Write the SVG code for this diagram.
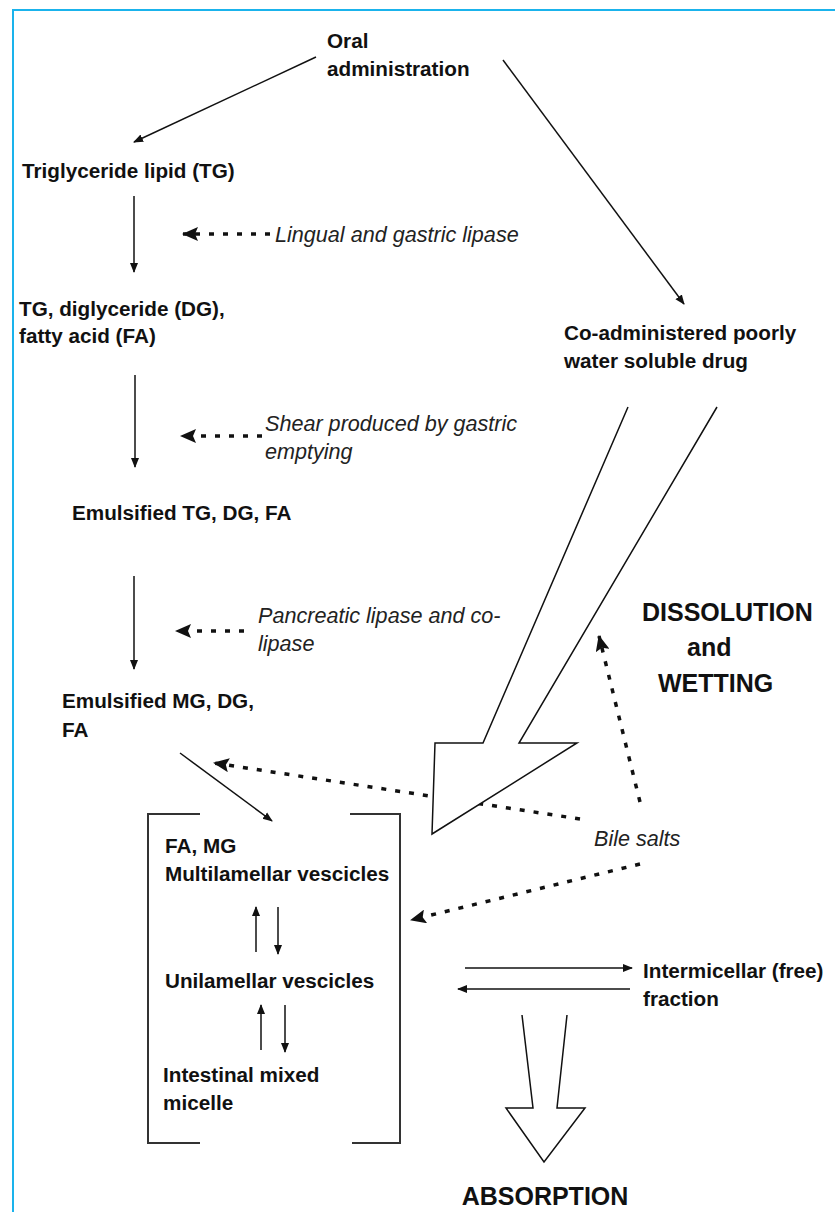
<svg xmlns="http://www.w3.org/2000/svg" width="835" height="1212" viewBox="0 0 835 1212">
<style>
  .b { font-family: "Liberation Sans", Arial, sans-serif; font-weight: bold; font-size: 20.7px; fill: #111; }
  .i { font-family: "Liberation Sans", Arial, sans-serif; font-style: italic; font-size: 21.6px; fill: #222; }
  .big { font-family: "Liberation Sans", Arial, sans-serif; font-weight: bold; font-size: 25px; fill: #111; }
  .ln { stroke: #111; stroke-width: 1.5; fill: none; }
  .dot { stroke: #111; stroke-width: 3.5; fill: none; stroke-dasharray: 5 9; }
  .hollow { stroke: #111; stroke-width: 1.5; fill: #fff; stroke-linejoin: miter; }
  .brk { stroke: #333; stroke-width: 2; fill: none; }
</style>
<defs>
  <marker id="ah" markerWidth="10" markerHeight="10" refX="9" refY="5" orient="auto" markerUnits="userSpaceOnUse">
    <path d="M0,1 L10,5 L0,9 Z" fill="#111"/>
  </marker>
  <marker id="dh" markerWidth="16" markerHeight="14" refX="15" refY="7" orient="auto" markerUnits="userSpaceOnUse">
    <path d="M0,0 L16,7 L0,14 L3,7 Z" fill="#111"/>
  </marker>
</defs>
<rect width="835" height="1212" fill="#fff"/>
<path d="M13,1212 L13,10 L835,10" stroke="#1ab3ec" stroke-width="2" fill="none"/>

<g id="connectors">
  <line class="ln" x1="316" y1="57" x2="134" y2="142" marker-end="url(#ah)"/>
  <line class="ln" x1="503" y1="60" x2="684" y2="304" marker-end="url(#ah)"/>
  <line class="ln" x1="134" y1="196" x2="134" y2="272" marker-end="url(#ah)"/>
  <line class="ln" x1="135" y1="375" x2="135" y2="467" marker-end="url(#ah)"/>
  <line class="ln" x1="134" y1="576" x2="134" y2="669" marker-end="url(#ah)"/>
  <line class="ln" x1="180" y1="753" x2="272" y2="821" marker-end="url(#ah)"/>
  <line class="dot" x1="270" y1="234" x2="183" y2="234" marker-end="url(#dh)"/>
  <line class="dot" x1="262" y1="436" x2="181" y2="436" marker-end="url(#dh)"/>
  <line class="dot" x1="244" y1="631" x2="176" y2="631" marker-end="url(#dh)"/>
  <line class="dot" x1="580" y1="819" x2="214" y2="763" marker-end="url(#dh)"/>
  <line class="dot" x1="640" y1="802" x2="599" y2="636" marker-end="url(#dh)"/>
  <line class="dot" x1="640" y1="864" x2="411" y2="920" marker-end="url(#dh)"/>
  <line class="ln" x1="256" y1="952" x2="256" y2="907" marker-end="url(#ah)"/>
  <line class="ln" x1="278" y1="907" x2="278" y2="954" marker-end="url(#ah)"/>
  <line class="ln" x1="261" y1="1050" x2="261" y2="1005" marker-end="url(#ah)"/>
  <line class="ln" x1="285" y1="1005" x2="285" y2="1052" marker-end="url(#ah)"/>
  <line class="ln" x1="465" y1="968" x2="632" y2="968" stroke="#333" marker-end="url(#ah)"/>
  <line class="ln" x1="630" y1="989" x2="458" y2="989" stroke="#555" marker-end="url(#ah)"/>
  <!-- hollow arrow: dissolution -->
  <path class="hollow" d="M628,407 L483,743 L435,743 L432,834 L577,743 L519,743 L717,407"/>
  <!-- hollow arrow: absorption -->
  <path class="hollow" d="M522,1015 L533,1108 L506,1108 L544,1162 L585,1108 L557,1108 L567,1015"/>
</g>

<g id="bracket">
  <path class="brk" d="M200,814 L148,814 L148,1143 L200,1143"/>
  <path class="brk" d="M350,814 L400,814 L400,1143 L352,1143"/>
</g>

<g id="oral"><text class="b" x="327" y="48">Oral</text><text class="b" x="327" y="76">administration</text></g>
<g id="tg"><text class="b" x="22" y="178">Triglyceride lipid (TG)</text></g>
<g id="lingual"><text class="i" x="275" y="242">Lingual and gastric lipase</text></g>
<g id="tgdgfa"><text class="b" x="19" y="316">TG, diglyceride (DG),</text><text class="b" x="19" y="343">fatty acid (FA)</text></g>
<g id="shear"><text class="i" x="265" y="431">Shear produced by gastric</text><text class="i" x="265" y="459">emptying</text></g>
<g id="emtg"><text class="b" x="72" y="520">Emulsified TG, DG, FA</text></g>
<g id="pancreatic"><text class="i" x="258" y="623">Pancreatic lipase and co-</text><text class="i" x="258" y="651">lipase</text></g>
<g id="emmg"><text class="b" x="62" y="708">Emulsified MG, DG,</text><text class="b" x="62" y="737">FA</text></g>
<g id="drug"><text class="b" x="564" y="340">Co-administered poorly</text><text class="b" x="564" y="368">water soluble drug</text></g>
<g id="dissolution">
  <text class="big" x="642" y="621">DISSOLUTION</text>
  <text class="big" x="687" y="656">and</text>
  <text class="big" x="658" y="692">WETTING</text>
</g>
<g id="bile"><text class="i" x="594" y="846">Bile salts</text></g>
<g id="multi"><text class="b" x="165" y="853">FA, MG</text><text class="b" x="165" y="881">Multilamellar vescicles</text></g>
<g id="uni"><text class="b" x="165" y="988">Unilamellar vescicles</text></g>
<g id="micelle"><text class="b" x="163" y="1082">Intestinal mixed</text><text class="b" x="163" y="1110">micelle</text></g>
<g id="free"><text class="b" x="643" y="978">Intermicellar (free)</text><text class="b" x="643" y="1006">fraction</text></g>
<g id="absorption"><text class="big" x="545" y="1205" text-anchor="middle">ABSORPTION</text></g>
</svg>
